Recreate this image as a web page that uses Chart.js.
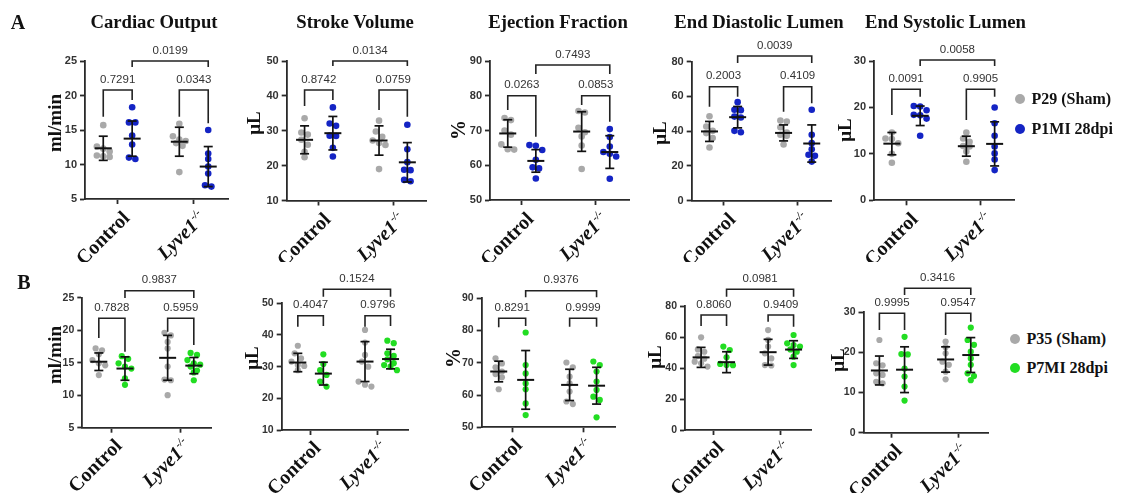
<!DOCTYPE html>
<html><head><meta charset="utf-8">
<script src="https://cdn.jsdelivr.net/npm/chart.js@4.4.0/dist/chart.umd.min.js"></script>
<style>
html,body{margin:0;padding:0;background:#fff;}
#root{position:relative;width:1122px;height:493px;overflow:hidden;background:#fff;}
canvas{position:absolute;}
.t{position:absolute;white-space:nowrap;line-height:1;transform:translate(-50%,-50%);color:#111;}
.lg{position:absolute;white-space:nowrap;line-height:1;transform:translate(0,-50%);color:#111;}
.dot{position:absolute;border-radius:50%;}
</style></head><body><div id="root"></div>
<script>
// ---------------- DATA ----------------
const categories = ['Control', 'Lyve1'];
const categorySup = ['', '-/-'];
const titlesA = ['Cardiac Output', 'Stroke Volume', 'Ejection Fraction', 'End Diastolic Lumen', 'End Systolic Lumen'];
const yUnits = ['ml/min', 'μL', '%', 'μL', 'μL'];
const yMinA = [5, 10, 50, 0, 0], yMaxA = [25, 50, 90, 80, 30];
const yMinB = [5, 10, 50, 0, 0], yMaxB = [25, 50, 90, 80, 30];
const yStep = [5, 10, 10, 20, 10];
const seriesA = ['P29 (Sham)', 'P1MI 28dpi'];
const seriesB = ['P35 (Sham)', 'P7MI 28dpi'];
// p-values: [control sham vs MI, Lyve1 sham vs MI, control MI vs Lyve1 MI]
const pA = [['0.7291', '0.0343', '0.0199'], ['0.8742', '0.0759', '0.0134'], ['0.0263', '0.0853', '0.7493'], ['0.2003', '0.4109', '0.0039'], ['0.0091', '0.9905', '0.0058']];
const pB = [['0.7828', '0.5959', '0.9837'], ['0.4047', '0.9796', '0.1524'], ['0.8291', '0.9999', '0.9376'], ['0.8060', '0.9409', '0.0981'], ['0.9995', '0.9547', '0.3416']];

// Row A: individual points [Control, Lyve1]
const A_CO_sham = [[15.7, 12.6, 12.3, 11.9, 11.3, 11.1, 11.2], [15.9, 14.1, 13.6, 13.4, 13.1, 12.7, 8.9]];
const A_CO_mi   = [[18.3, 16.1, 16.1, 14.2, 12.9, 11.0, 10.8], [15.0, 11.6, 10.8, 9.7, 8.7, 7.0, 6.8]];
const A_CO_mean = [12.35, 13.75, 13.3, 9.7], A_CO_sd = [1.75, 2.55, 2.1, 2.9];
const A_SV_sham = [[33.6, 29.5, 28.9, 27.4, 26.0, 24.0, 22.4], [32.9, 29.8, 28.3, 27.2, 26.5, 25.9, 19.0]];
const A_SV_mi   = [[36.7, 32.1, 31.4, 28.5, 28.6, 25.1, 22.6], [31.7, 24.7, 21.0, 18.8, 18.7, 15.9, 15.5]];
const A_SV_mean = [27.4, 29.3, 27.2, 20.95], A_SV_sd = [4.0, 4.8, 4.2, 5.65];
const A_EF_sham = [[73.6, 73.0, 70.0, 68.8, 66.0, 64.6, 64.5], [75.6, 75.2, 70.8, 68.3, 65.7, 69.5, 58.9]];
const A_EF_mi   = [[65.8, 65.6, 64.4, 61.6, 59.4, 59.1, 56.2], [70.4, 68.1, 65.4, 63.3, 62.5, 63.8, 56.1]];
const A_EF_mean = [69.15, 61.25, 69.7, 63.8], A_EF_sd = [3.95, 3.25, 5.7, 4.7];
const A_EDL_sham = [[48.5, 42.6, 40.1, 38.8, 35.9, 30.5], [46.0, 45.5, 42.2, 39.1, 37.8, 37.2, 32.2]];
const A_EDL_mi   = [[56.6, 52.2, 52.0, 48.3, 47.8, 40.1, 39.3], [52.2, 37.8, 33.0, 29.5, 26.3, 25.7, 22.4]];
const A_EDL_mean = [39.75, 47.95, 38.9, 32.8], A_EDL_sd = [5.75, 6.15, 4.6, 10.7];
const A_ESL_sham = [[14.6, 13.3, 13.2, 12.3, 10.0, 8.1], [14.6, 13.3, 12.6, 11.7, 11.6, 10.5, 8.3]];
const A_ESL_mi   = [[20.3, 20.2, 19.4, 18.4, 18.3, 17.6, 13.9], [20.0, 16.6, 13.9, 11.6, 10.1, 8.8, 6.5]];
const A_ESL_mean = [12.2, 18.2, 11.65, 12.15], A_ESL_sd = [2.4, 2.1, 2.15, 4.75];

// Row B
const B_CO_sham = [[17.2, 16.9, 16.3, 15.4, 14.9, 14.6, 13.1], [19.6, 19.2, 18.2, 17.2, 14.4, 12.3, 12.4, 10.0]];
const B_CO_mi   = [[16.0, 15.6, 14.9, 14.4, 14.1, 12.6, 11.6], [16.5, 16.2, 15.4, 14.9, 14.7, 14.4, 13.8, 13.5, 12.3]];
const B_CO_mean = [15.15, 14.1, 15.75, 14.55], B_CO_sd = [1.35, 1.8, 3.45, 1.25];
const B_SV_sham = [[36.6, 34.2, 32.6, 31.6, 30.5, 30.2, 28.9], [41.6, 37.6, 33.7, 31.6, 30.0, 25.3, 24.3, 23.7]];
const B_SV_mi   = [[33.9, 30.8, 28.9, 27.4, 25.3, 23.7], [38.2, 37.4, 34.2, 33.4, 32.3, 31.1, 30.0, 28.9, 30.5]];
const B_SV_mean = [31.3, 27.8, 31.6, 32.4], B_SV_sd = [2.9, 3.6, 6.3, 3.1];
const B_EF_sham = [[71.4, 69.8, 68.6, 67.3, 66.5, 65.5, 61.8], [70.1, 68.6, 65.7, 63.6, 61.1, 58.0, 57.2]];
const B_EF_mi   = [[79.4, 69.3, 66.7, 63.6, 61.8, 57.4, 53.8], [70.4, 69.3, 67.3, 64.2, 61.6, 59.5, 58.5, 53.1]];
const B_EF_mean = [67.3, 64.7, 63.15, 62.9], B_EF_sd = [3.2, 9.1, 4.85, 5.7];
const B_EDL_sham = [[59.8, 52.0, 50.5, 47.7, 46.0, 44.1, 43.0, 40.9], [64.5, 58.1, 53.8, 49.5, 46.2, 41.9, 41.6]];
const B_EDL_mi   = [[53.8, 51.6, 46.9, 42.6, 41.8, 41.9], [61.3, 55.9, 54.8, 53.8, 52.0, 50.5, 47.3, 41.9]];
const B_EDL_mean = [46.85, 43.75, 50.2, 51.9], B_EDL_sd = [6.45, 6.75, 8.3, 5.7];
const B_ESL_sham = [[23.1, 17.3, 16.8, 14.8, 14.4, 12.7, 12.3], [22.7, 21.3, 19.8, 17.7, 16.9, 15.2, 13.3]];
const B_ESL_mi   = [[23.9, 19.6, 19.5, 16.0, 14.0, 11.5, 8.0], [26.2, 23.1, 21.9, 20.2, 18.5, 16.9, 14.8, 14.1, 13.1]];
const B_ESL_mean = [15.5, 15.7, 18.25, 19.35], B_ESL_sd = [3.6, 5.7, 3.15, 4.35];

// ---------------- LAYOUT / STYLE ----------------
const FONT_SERIF = '"Liberation Serif","Times New Roman",serif';
const FONT_SANS = '"Liberation Sans",Arial,sans-serif';
const COL_SHAM = '#a9a9a9', COL_BLUE = '#1424c4', COL_GREEN = '#22dd22', COL_AX = '#2a2a2a';
const X_MIN = 0.57, X_MAX = 2.45, GROUP_OFF = 0.19;

const layoutA = [
  {L: 85, T: 61, R: 228, B: 199},
  {L: 286.7, T: 61, R: 426.7, B: 200.5},
  {L: 490, T: 61, R: 629, B: 200},
  {L: 691.7, T: 61.5, R: 831, B: 200.5},
  {L: 874, T: 61, R: 1014, B: 200.3}];
const layoutB = [
  {L: 82.3, T: 297.7, R: 211.7, B: 427.7},
  {L: 281.7, T: 303.3, R: 408, B: 430},
  {L: 481.7, T: 298.3, R: 615, B: 427.3},
  {L: 685, T: 306, R: 811, B: 430},
  {L: 863.5, T: 312.3, R: 988, B: 432.7}];
// bracket geometry (page px): top bracket y, its leg bottom, inner bracket y, inner leg bottoms
const bracketA = [
  {top: 61, topLeg: 67, inner: 90, legs: [116.7, 100, 116.7, 123.3]},
  {top: 61, topLeg: 66, inner: 90, legs: [106, 100, 110, 116.7]},
  {top: 65, topLeg: 74, inner: 95.7, legs: [110, 136.7, 105, 121.7]},
  {top: 56, topLeg: 63, inner: 86.7, legs: [106.7, 96.7, 111.7, 103.3]},
  {top: 60, topLeg: 66, inner: 89.3, legs: [115, 96.7, 120, 96.7]}];
const bracketB = [
  {top: 290.7, topLeg: 298, inner: 318.3, legs: [338, 351.7, 331.7, 345]},
  {top: 289.3, topLeg: 296.7, inner: 315.7, legs: [326.7, 326, 326.7, 326]},
  {top: 290.7, topLeg: 297.3, inner: 318.3, legs: [327.3, 326, 326.7, 326.7]},
  {top: 289.3, topLeg: 296.7, inner: 315, legs: [326, 326, 321.7, 326.7]},
  {top: 288.3, topLeg: 295, inner: 313.3, legs: [330, 330, 335, 321.7]}];
const yTitlePosA = [[55, 123], [254, 123], [458, 130], [660, 133], [845, 130]];
const yTitlePosB = [[55, 355], [252, 358], [453, 358], [655, 357], [838, 360]];
const titlePosA = [154, 355, 558, 759, 945.5];

const root = document.getElementById('root');
function addText(txt, x, y, font, cls, rot) {
  const d = document.createElement('div');
  d.className = cls || 't';
  d.textContent = txt;
  d.style.left = x + 'px'; d.style.top = y + 'px'; d.style.font = font;
  if (rot) d.style.transform = 'translate(-50%,-50%) rotate(' + rot + 'deg)';
  root.appendChild(d);
}

function jitter(vals, center, pxY, pxX) {
  const idx = vals.map((v, i) => i).sort((a, b) => vals[b] - vals[a]);
  const out = new Array(vals.length);
  let cl = [];
  const flush = () => { const n = cl.length; cl.forEach((k, j) => { out[k] = center + (j - (n - 1) / 2) * 6.4 / pxX; }); cl = []; };
  idx.forEach(k => { if (cl.length && (vals[cl[0]] - vals[k]) * pxY > 5.5) flush(); cl.push(k); });
  flush();
  return out;
}
const groupX = i => (i < 2 ? 1 : 2) + (i % 2 === 0 ? -GROUP_OFF : GROUP_OFF);

const overlay = {
  id: 'overlay',
  afterDatasetsDraw(chart, args, o) {
    const {ctx, scales: {x, y}} = chart;
    const ln = (a, b, c, d) => { ctx.beginPath(); ctx.moveTo(a, b); ctx.lineTo(c, d); ctx.stroke(); };
    ctx.save();
    ctx.strokeStyle = '#111'; ctx.lineWidth = 1.7; ctx.lineCap = 'butt';
    o.mean.forEach((m, i) => {
      const xc = x.getPixelForValue(groupX(i));
      const yt = y.getPixelForValue(m + o.sd[i]), yb = y.getPixelForValue(m - o.sd[i]), ym = y.getPixelForValue(m);
      ln(xc, yt, xc, yb);
      ctx.lineWidth = 2; ln(xc - 8.5, ym, xc + 8.5, ym); ctx.lineWidth = 1.7;
      ln(xc - 4.5, yt, xc + 4.5, yt); ln(xc - 4.5, yb, xc + 4.5, yb);
    });
    // brackets
    const br = o.bracket, top = o.canvasTop;
    ctx.strokeStyle = '#222'; ctx.lineWidth = 1.6;
    const bracket = (g1, g2, yy, l1, l2, label) => {
      const x1 = x.getPixelForValue(groupX(g1)), x2 = x.getPixelForValue(groupX(g2));
      ctx.beginPath(); ctx.moveTo(x1, l1 - top); ctx.lineTo(x1, yy - top); ctx.lineTo(x2, yy - top); ctx.lineTo(x2, l2 - top); ctx.stroke();
      ctx.fillStyle = '#333'; ctx.font = '11.5px ' + FONT_SANS; ctx.textAlign = 'center'; ctx.textBaseline = 'middle';
      ctx.fillText(label, (x1 + x2) / 2, yy - top - 10.5);
    };
    bracket(0, 1, br.inner, br.legs[0], br.legs[1], o.p[0]);
    bracket(2, 3, br.inner, br.legs[2], br.legs[3], o.p[1]);
    bracket(1, 3, br.top, br.topLeg, br.topLeg, o.p[2]);
    ctx.restore();
  },
  afterDraw(chart, args, o) {
    const {ctx, chartArea, scales: {x}} = chart;
    ctx.save();
    ctx.fillStyle = '#111';
    categories.forEach((c, i) => {
      const px = x.getPixelForValue(i + 1);
      ctx.save();
      ctx.translate(px + o.lx, chartArea.bottom + o.ly);
      ctx.rotate(-Math.PI / 4);
      ctx.textBaseline = 'alphabetic'; ctx.textAlign = 'right';
      let off = 0;
      if (categorySup[i]) {
        ctx.font = 'italic bold 11px ' + FONT_SERIF;
        ctx.fillText(categorySup[i], 0, -8);
        off = ctx.measureText(categorySup[i]).width + 0.5;
        ctx.font = 'italic bold 20px ' + FONT_SERIF;
      } else {
        ctx.font = 'bold 20px ' + FONT_SERIF;
      }
      ctx.fillText(c, -off, 0);
      ctx.restore();
    });
    ctx.restore();
  }
};

function makePanel(lay, ymin, ymax, step, sham, mi, mean, sd, miColor, p, br, clipBottom, topPad, rowB) {
  const cLeft = Math.round(lay.L) - 62, cTop = Math.round(lay.T) - topPad;
  const cRight = Math.round(lay.R) + 12, cBottom = clipBottom;
  const W = cRight - cLeft, H = cBottom - cTop;
  const cv = document.createElement('canvas');
  cv.width = W; cv.height = H; cv.style.left = cLeft + 'px'; cv.style.top = cTop + 'px';
  cv.style.width = W + 'px'; cv.style.height = H + 'px';
  root.appendChild(cv);
  const pxY = (lay.B - lay.T) / (ymax - ymin), pxX = (lay.R - lay.L) / (X_MAX - X_MIN);
  const mk = (arr, side) => {
    const pts = [];
    arr.forEach((vals, ci) => {
      const xs = jitter(vals, ci + 1 + side * GROUP_OFF, pxY, pxX);
      vals.forEach((v, k) => pts.push({x: xs[k], y: v}));
    });
    return pts;
  };
  const rad = rowB ? 3.1 : 3.3;
  new Chart(cv, {
    type: 'scatter',
    data: {datasets: [
      {data: mk(sham, -1), backgroundColor: COL_SHAM, borderWidth: 0, pointRadius: rad, clip: false},
      {data: mk(mi, 1), backgroundColor: miColor, borderWidth: 0, pointRadius: rad, clip: false}]},
    options: {
      responsive: false, animation: false, devicePixelRatio: 1,
      layout: {padding: {left: 0, top: lay.T - cTop, right: cRight - lay.R, bottom: 0}},
      plugins: {legend: {display: false}, tooltip: {enabled: false},
        overlay: {mean, sd, p, bracket: br, canvasTop: cTop, lx: rowB ? 11 : 13, ly: rowB ? 19 : 20}},
      scales: {
        x: {type: 'linear', min: X_MIN, max: X_MAX,
          afterBuildTicks: s => { s.ticks = [{value: 1}, {value: 2}]; },
          afterFit: s => { s.height = cBottom - lay.B; },
          grid: {drawOnChartArea: false, drawTicks: true, tickLength: 5, tickWidth: 1.8, tickColor: COL_AX},
          border: {color: COL_AX, width: 1.8},
          ticks: {callback: () => '', padding: 0}},
        y: {type: 'linear', min: ymin, max: ymax,
          afterFit: s => { s.width = lay.L - cLeft; },
          grid: {drawOnChartArea: false, drawTicks: true, tickLength: 5, tickWidth: 1.8, tickColor: COL_AX},
          border: {color: COL_AX, width: 1.8},
          ticks: {stepSize: step, autoSkip: false, padding: 3, color: '#333',
            font: {family: FONT_SANS, size: rowB ? 10.5 : 11, weight: 'bold'}}}
      }
    },
    plugins: [overlay]
  });
}

const rowA = [
  [A_CO_sham, A_CO_mi, A_CO_mean, A_CO_sd], [A_SV_sham, A_SV_mi, A_SV_mean, A_SV_sd],
  [A_EF_sham, A_EF_mi, A_EF_mean, A_EF_sd], [A_EDL_sham, A_EDL_mi, A_EDL_mean, A_EDL_sd],
  [A_ESL_sham, A_ESL_mi, A_ESL_mean, A_ESL_sd]];
const rowBd = [
  [B_CO_sham, B_CO_mi, B_CO_mean, B_CO_sd], [B_SV_sham, B_SV_mi, B_SV_mean, B_SV_sd],
  [B_EF_sham, B_EF_mi, B_EF_mean, B_EF_sd], [B_EDL_sham, B_EDL_mi, B_EDL_mean, B_EDL_sd],
  [B_ESL_sham, B_ESL_mi, B_ESL_mean, B_ESL_sd]];

rowA.forEach((d, i) => makePanel(layoutA[i], yMinA[i], yMaxA[i], yStep[i], d[0], d[1], d[2], d[3], COL_BLUE, pA[i], bracketA[i], 262, 50, false));
rowBd.forEach((d, i) => makePanel(layoutB[i], yMinB[i], yMaxB[i], yStep[i], d[0], d[1], d[2], d[3], COL_GREEN, pB[i], bracketB[i], 493, 45, true));

// titles, letters, axis titles
titlesA.forEach((t, i) => addText(t, titlePosA[i], 21.5, 'bold 18.7px ' + FONT_SERIF));
addText('A', 18, 21.5, 'bold 20px ' + FONT_SERIF);
addText('B', 24, 282, 'bold 20px ' + FONT_SERIF);
yUnits.forEach((u, i) => {
  const f = 'bold ' + (u === '%' ? 20 : 19) + 'px ' + FONT_SERIF;
  addText(u, yTitlePosA[i][0], yTitlePosA[i][1], f, 't', -90);
  addText(u, yTitlePosB[i][0], yTitlePosB[i][1], f, 't', -90);
});
// legends
function legendItem(cx, cy, color, label) {
  const d = document.createElement('div'); d.className = 'dot';
  d.style.left = (cx - 5) + 'px'; d.style.top = (cy - 5) + 'px'; d.style.width = '10px'; d.style.height = '10px';
  d.style.background = color; root.appendChild(d);
  addText(label, cx + 11.5, cy, 'bold 16px ' + FONT_SERIF, 'lg');
}
legendItem(1020, 99.3, COL_SHAM, seriesA[0]);
legendItem(1020, 129, COL_BLUE, seriesA[1]);
legendItem(1015, 339.3, COL_SHAM, seriesB[0]);
legendItem(1015, 368.3, COL_GREEN, seriesB[1]);
</script></body></html>
